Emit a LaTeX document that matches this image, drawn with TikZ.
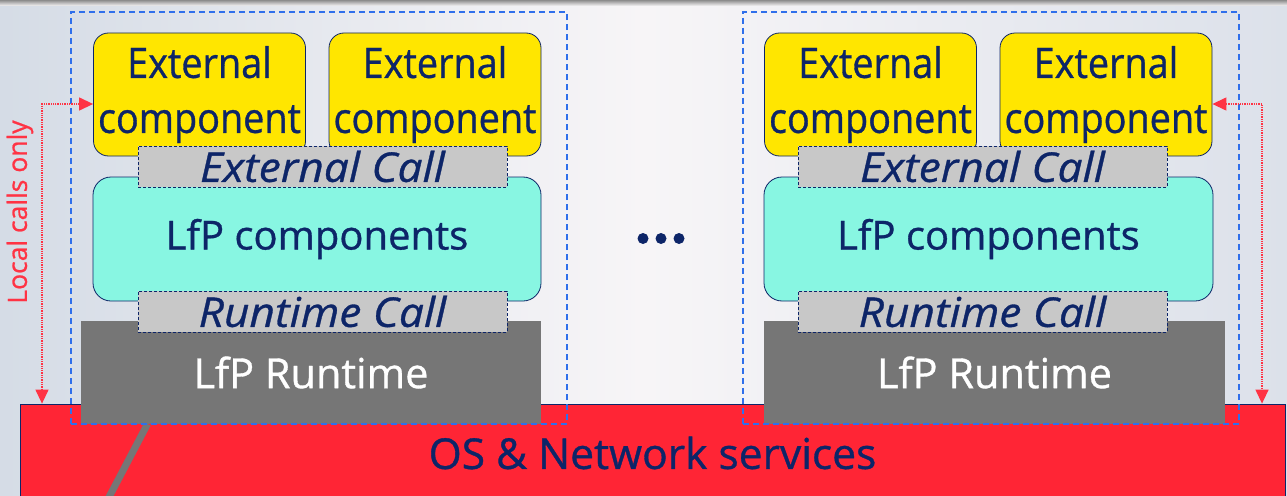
\documentclass[tikz,border=0pt]{standalone}
\usepackage{fontspec}
\setmainfont{Open Sans}[FakeBold=0.8]
\newfontfamily\extfont{Open Sans}[FakeStretch=0.9, FakeBold=0.8]
\newfontfamily\callfont{Open Sans}[FakeStretch=1.08, FakeBold=0.8]
\usetikzlibrary{arrows.meta}
\definecolor{navy}{HTML}{0D2568}
\definecolor{extyellow}{HTML}{FFE600}
\definecolor{lfpcyan}{HTML}{88F6E2}
\definecolor{callgrey}{HTML}{C8C8C8}
\definecolor{rtgrey}{HTML}{767676}
\definecolor{osred}{HTML}{FF2535}
\definecolor{dashblue}{HTML}{2F6FEB}
\definecolor{callred}{HTML}{FF3344}
\definecolor{bgL}{HTML}{D5DCE6}
\definecolor{bgM}{HTML}{F7F5F7}
\definecolor{bgR}{HTML}{DCE1EA}
\tikzset{
  extbox/.style={draw=navy, line width=0.8pt, fill=extyellow, rounded corners=15pt,
    text=navy, font=\extfont\fontsize{42}{55}\selectfont, align=center, inner sep=0pt,
    minimum width=212pt, minimum height=123pt},
  lfpbox/.style={draw=navy, line width=0.8pt, fill=lfpcyan, rounded corners=18pt,
    text=navy, font=\fontsize{40}{48}\selectfont, inner sep=0pt, minimum height=124pt},
  callbox/.style={draw=navy, line width=0.7pt, dash pattern=on 3pt off 2pt, fill=callgrey,
    text=navy, font=\callfont\itshape\fontsize{41}{48}\selectfont, inner sep=0pt,
    minimum width=369pt, minimum height=41pt},
  rtbox/.style={fill=rtgrey, text=white, font=\fontsize{41.5}{48}\selectfont,
    inner sep=0pt, minimum height=103pt},
  osbox/.style={draw=navy, line width=0.8pt, fill=osred, text=navy,
    font=\fontsize{42.5}{48}\selectfont,
    inner sep=0pt, minimum width=1265pt, minimum height=98pt},
  container/.style={draw=dashblue, line width=1.3pt, dash pattern=on 6pt off 4pt,
    inner sep=0pt, minimum height=412pt, minimum width=496pt},
  lcall/.style={draw=callred, line width=1.3pt, densely dotted,
    {Triangle[length=14pt,width=13pt]}-{Triangle[length=14pt,width=13pt]}},
}
\begin{document}
\begin{tikzpicture}[x=1pt,y=-1pt]
\useasboundingbox (0,0) rectangle (1287,495);
\clip (0,0) rectangle (1287,495);
% backdrop
\shade[left color=bgL, right color=bgR, middle color=bgM] (0,0) rectangle (1287,495);
\shade[top color=black!45, bottom color=bgM] (0,0) rectangle (1287,6);

% operating system layer
\node[osbox] (os) at (652.5,453) {OS \& Network services};
\draw[rtgrey, line width=7pt] (147.5,424) -- (107.5,500);

% left node stack
\node[rtbox, minimum width=460pt] (rt1) at (311,372.5) {LfP Runtime};
\node[lfpbox, minimum width=448pt] (lfp1) at (317,239) {LfP components};
\node[extbox] (ext1) at (199.5,94.5) {External\\component};
\node[extbox] (ext2) at (435,94.5) {External\\component};
\node[callbox] (ecall1) at (322.5,166.5) {External Call};
\node[callbox] (rcall1) at (322.5,311.5) {Runtime Call};
\node[container] (node1) at (319,218) {};

% right node stack
\node[rtbox, minimum width=461pt] (rt2) at (994.5,372.5) {LfP Runtime};
\node[lfpbox, minimum width=449pt] (lfp2) at (988.5,239) {LfP components};
\node[extbox] (ext3) at (870.5,94.5) {External\\component};
\node[extbox] (ext4) at (1106,94.5) {External\\component};
\node[callbox] (ecall2) at (982.5,166.5) {External Call};
\node[callbox] (rcall2) at (982.5,311.5) {Runtime Call};
\node[container] (node2) at (991,218) {};

% further nodes
\foreach \cx in {643,661,679}
  \fill[navy] (\cx,238.5) circle (5.5pt);

% local calls between components and OS
\coordinate (lc1) at (42,104);
\coordinate (lc2) at (1262,104);
\draw[lcall] (ext1.west |- lc1) -- (lc1) -- (lc1 |- os.north);
\draw[lcall] (ext4.east |- lc2) -- (lc2) -- (lc2 |- os.north);
\node[rotate=90, text=callred, font=\fontsize{26.5}{30}\selectfont, inner sep=0pt] (lcl) at (20,212) {Local calls only};
\end{tikzpicture}
\end{document}
